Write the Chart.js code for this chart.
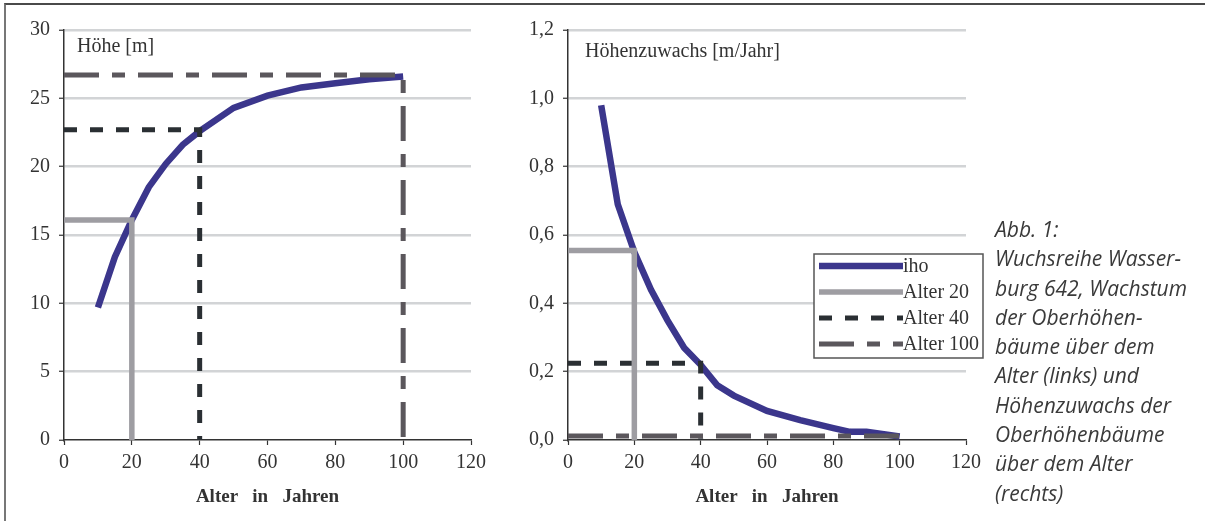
<!DOCTYPE html>
<html>
<head>
<meta charset="utf-8">
<script src="https://cdn.jsdelivr.net/npm/chart.js@4.4.1/dist/chart.umd.min.js"></script>
<style>
  body { margin: 0; background: #fff; width: 1205px; height: 521px; overflow: hidden; position: relative; }
  .rahmen { position: absolute; left: 4px; top: 3px; width: 1300px; height: 600px;
            border-left: 2px solid #777; border-top: 2px solid #4a4a4a; }
  canvas { position: absolute; top: 0; }
  .lbl { position: absolute; font: 20px "Liberation Serif", serif; color: #333; white-space: nowrap; }
  .caption { position: absolute; left: 995px; top: 215px; font: italic 21px "Open Sans", sans-serif;
             line-height: 29.3px; color: #3a3a3a; white-space: nowrap; }
</style>
</head>
<body>
<div class="rahmen"></div>
<canvas id="hoeheChart" width="500" height="521" style="left:0px"></canvas>
<canvas id="zuwachsChart" width="500" height="521" style="left:495px"></canvas>
<div class="lbl" style="left:77px; top:34px">Höhe [m]</div>
<div class="lbl" style="left:585px; top:39px">Höhenzuwachs [m/Jahr]</div>
<div class="caption">Abb. 1:<br>Wuchsreihe Wasser-<br>burg 642, Wachstum<br>der Oberhöhen-<br>bäume über dem<br>Alter (links) und<br>Höhenzuwachs der<br>Oberhöhenbäume<br>über dem Alter<br>(rechts)</div>

<script>
// Werte
const alterHoehe = [10, 15, 20, 25, 30, 35, 40, 50, 60, 70, 80, 90, 100];
const hoehe = [9.7, 13.4, 16.1, 18.5, 20.2, 21.6, 22.6, 24.3, 25.2, 25.8, 26.1, 26.4, 26.6];

const alterZuwachs = [10, 15, 20, 25, 30, 35, 40, 45, 50, 60, 70, 80, 85, 90, 100];
const zuwachs = [0.98, 0.69, 0.55, 0.44, 0.35, 0.27, 0.22, 0.16, 0.13, 0.085, 0.058, 0.035, 0.024, 0.024, 0.01];

const refNamen = ['Alter 20', 'Alter 40', 'Alter 100'];
const refAlter = [20, 40, 100];
const refHoehe = [16.1, 22.7, 26.7];
const refZuwachs = [0.555, 0.225, 0.012];

const xMax = 120, xStep = 20;
const hoeheMax = 30, hoeheStep = 5;
const zuwachsMax = 1.2, zuwachsStep = 0.2;

// Stile
const refStil = [
    { color: '#9e9da2', width: 5.5, dash: [] },            // Alter 20
    { color: '#2a2f33', width: 5, dash: [13, 13] },        // Alter 40
    { color: '#5b575c', width: 5, dash: [35, 13, 13, 13] } // Alter 100
];
const kurveFarbe = '#3b368c';
const schrift = '"Liberation Serif", serif';

function refDatasets(werte) {
    return refNamen.map((name, i) => ({
        label: name,
        data: [
            { x: 0, y: werte[i] },
            { x: refAlter[i], y: werte[i] },
            { x: refAlter[i], y: 0 }
        ],
        borderColor: refStil[i].color,
        borderWidth: refStil[i].width,
        borderDash: refStil[i].dash,
        borderCapStyle: 'butt',
        borderJoinStyle: 'miter',
        pointRadius: 0,
        tension: 0,
        order: 1
    }));
}

function kurve(label, xs, ys) {
    return {
        label: label,
        data: xs.map((x, i) => ({ x: x, y: ys[i] })),
        borderColor: kurveFarbe,
        borderWidth: 6.5,
        borderCapStyle: 'butt',
        pointRadius: 0,
        tension: 0,
        order: 5
    };
}

// Legende im rechten Diagramm (wie Excel)
const legendePlugin = {
    id: 'legendeBox',
    afterDraw(chart) {
        const ctx = chart.ctx;
        const x0 = 319, y0 = 254, w = 169, h = 104;
        ctx.save();
        ctx.fillStyle = '#fff';
        ctx.fillRect(x0, y0, w, h);
        ctx.strokeStyle = '#555';
        ctx.lineWidth = 1.5;
        ctx.strokeRect(x0, y0, w, h);
        ctx.font = '20px ' + schrift;
        ctx.textBaseline = 'middle';
        ctx.fillStyle = '#333';
        const reihen = [chart.data.datasets[3], chart.data.datasets[0], chart.data.datasets[1], chart.data.datasets[2]];
        reihen.forEach((ds, i) => {
            const y = y0 + 12 + i * 26;
            ctx.beginPath();
            ctx.setLineDash(ds.borderDash || []);
            ctx.lineCap = 'butt';
            ctx.strokeStyle = ds.borderColor;
            ctx.lineWidth = ds.borderWidth;
            ctx.moveTo(x0 + 5, y);
            ctx.lineTo(x0 + 89, y);
            ctx.stroke();
            ctx.setLineDash([]);
            ctx.fillText(ds.label, x0 + 89, y + 1);
        });
        ctx.restore();
    }
};

function optionen(yMax, yStep, yWidth, yFormat) {
    return {
        responsive: false,
        animation: false,
        events: [],
        layout: { padding: { left: 0, right: 29, top: 30, bottom: 0 } },
        plugins: { legend: { display: false }, tooltip: { enabled: false } },
        scales: {
            x: {
                type: 'linear',
                min: 0, max: xMax,
                afterFit(scale) { scale.height = 81; },
                ticks: { stepSize: xStep, padding: 6, color: '#333', font: { family: schrift, size: 20 } },
                grid: { drawOnChartArea: false, drawTicks: true, tickLength: 5, tickColor: '#333', tickWidth: 1.2 },
                border: { color: '#333', width: 1.5 },
                title: {
                    display: true, text: 'Alter   in   Jahren', color: '#333',
                    font: { family: schrift, size: 19, weight: 'bold' },
                    padding: { top: 4, bottom: 13 }
                }
            },
            y: {
                min: 0, max: yMax,
                afterFit(scale) { scale.width = yWidth; },
                ticks: { stepSize: yStep, padding: 9, color: '#333', font: { family: schrift, size: 20 }, callback: yFormat },
                grid: {
                    color: c => c.tick && c.tick.value === 0 ? 'rgba(0,0,0,0)' : '#d2d4d6',
                    lineWidth: 2.5,
                    tickLength: 5, tickColor: '#333', tickWidth: 1.2
                },
                border: { color: '#333', width: 1.5 }
            }
        }
    };
}

new Chart(document.getElementById('hoeheChart'), {
    type: 'line',
    data: { datasets: [...refDatasets(refHoehe), kurve('Höhe', alterHoehe, hoehe)] },
    options: optionen(hoeheMax, hoeheStep, 64, v => v)
});

new Chart(document.getElementById('zuwachsChart'), {
    type: 'line',
    data: { datasets: [...refDatasets(refZuwachs), kurve('iho', alterZuwachs, zuwachs)] },
    options: optionen(zuwachsMax, zuwachsStep, 73, v => v.toFixed(1).replace('.', ',')),
    plugins: [legendePlugin]
});
</script>
</body>
</html>
